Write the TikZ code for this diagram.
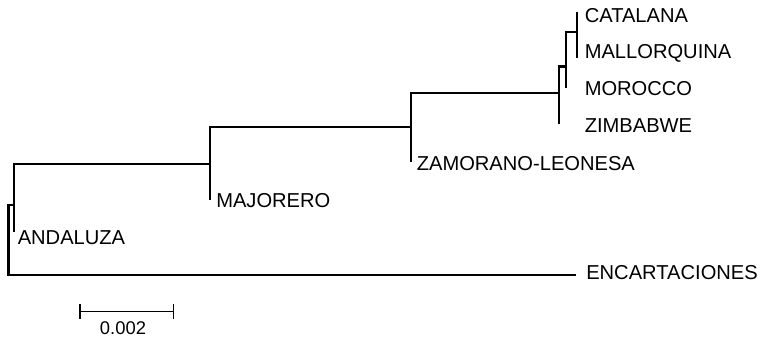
\documentclass[tikz,border=0pt]{standalone}
\usepackage{fontspec}
\setmainfont{Liberation Sans}
\begin{document}
\begin{tikzpicture}[x=0.75pt,y=-0.75pt,
  branch/.style={line width=1.8pt,line cap=rect,line join=miter},
  taxon/.style={anchor=base west,inner sep=0pt,font=\fontsize{15.1}{16}\selectfont},
  scalebar/.style={line width=1.1pt},
  scalelabel/.style={anchor=base,inner sep=0pt,font=\fontsize{13.8}{15}\selectfont}]
\useasboundingbox (0,0) rectangle (766,340);

% internal nodes of the tree
\coordinate (r) at (8.5,240);
\coordinate (e) at (14,205);
\coordinate (f) at (210,164);
\coordinate (g) at (411,127);
\coordinate (a) at (559,93);
\coordinate (c) at (566,66.5);
\coordinate (d) at (577,32);

% tips of the tree
\coordinate (ca) at (577,13);
\coordinate (ml) at (577,57);
\coordinate (mo) at (566,87);
\coordinate (zw) at (559,123);
\coordinate (zl) at (411,161);
\coordinate (mj) at (210,199);
\coordinate (an) at (14,231);
\coordinate (en) at (575,275);

% branches (vertical then horizontal, from parent to child)
\draw[branch] (r) |- (e);
\draw[branch] (r) |- (en);
\draw[branch] (e) |- (an);
\draw[branch] (e) |- (f);
\draw[branch] (f) |- (mj);
\draw[branch] (f) |- (g);
\draw[branch] (g) |- (zl);
\draw[branch] (g) |- (a);
\draw[branch] (a) |- (zw);
\draw[branch] (a) |- (c);
\draw[branch] (c) |- (mo);
\draw[branch] (c) |- (d);
\draw[branch] (d) |- (ca);
\draw[branch] (d) |- (ml);

% taxon labels
\node[taxon] (lca) at (584.5,22) {CATALANA};
\node[taxon] (lml) at (584.5,58.5) {MALLORQUINA};
\node[taxon] (lmo) at (584.5,95) {MOROCCO};
\node[taxon] (lzw) at (584.5,132) {ZIMBABWE};
\node[taxon] (lzl) at (416.5,170) {ZAMORANO-LEONESA};
\node[taxon] (lmj) at (216,207) {MAJORERO};
\node[taxon] (lan) at (17.5,244) {ANDALUZA};
\node[taxon] (len) at (586,279) {ENCARTACIONES};

% scale bar
\coordinate (s1) at (80,311.5);
\coordinate (s2) at (173.5,311.5);
\draw[scalebar] (s1) -- (s2);
\draw[scalebar] ([yshift=-5.5pt]s1) -- ([yshift=5.5pt]s1);
\draw[scalebar] ([yshift=-5.5pt]s2) -- ([yshift=5.5pt]s2);
\node[scalelabel] (sl) at (123,334.5) {0.002};
\end{tikzpicture}
\end{document}
